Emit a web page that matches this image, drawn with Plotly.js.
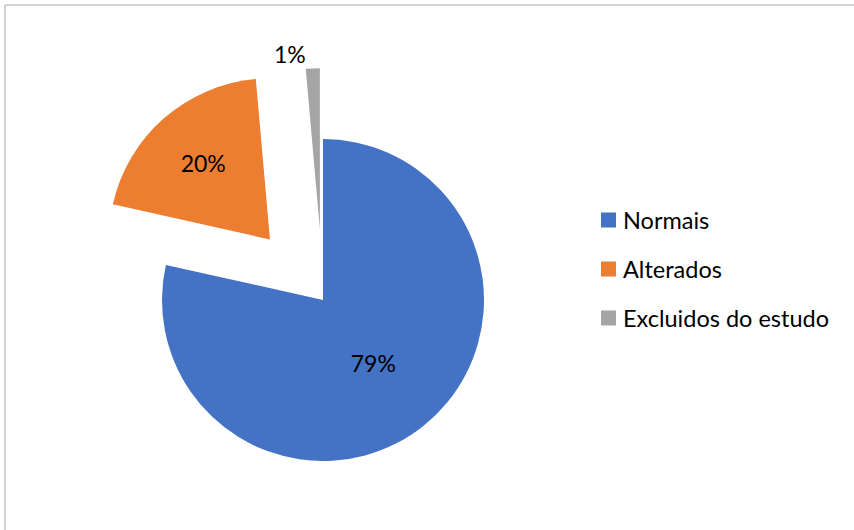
<!DOCTYPE html>
<html><head><meta charset="utf-8">
<script src="https://cdn.plot.ly/plotly-3.0.1.min.js"></script>
<style>html,body{margin:0;padding:0;overflow:hidden;background:#fff}#chart{width:854px;height:600px}</style>
</head><body><div id="chart"></div>
<script>
const categories = ["Normais", "Alterados", "Excluidos do estudo"];
const values = [78.5, 20.1, 1.4];
const pctLabels = ["79%", "20%", "1%"];
const colors = ["#4472C4", "#ED7D31", "#A5A5A5"];
const pulls = [0, 0.5, 0.44];

const W = 854, H = 600;
const FONT = "Lato, 'Open Sans', sans-serif";
const px = x => x / W;
const py = y => 1 - y / H;

const shapes = [
  {type:'line', xref:'paper', yref:'paper', x0:px(5), x1:px(5), y0:py(5), y1:py(600), line:{color:'#a6a6a6', width:1}},
  {type:'line', xref:'paper', yref:'paper', x0:px(5), x1:px(854), y0:py(5), y1:py(5), line:{color:'#a6a6a6', width:1}}
];
const annotations = [];
categories.forEach((c, i) => {
  const cy = 220 + i * 49;
  shapes.push({type:'rect', xref:'paper', yref:'paper', x0:px(601), x1:px(616), y0:py(cy-7.5), y1:py(cy+7.5), fillcolor:colors[i], line:{width:0}});
  annotations.push({xref:'paper', yref:'paper', x:px(621), y:py(cy), xanchor:'left', yanchor:'middle', showarrow:false, text:c, font:{family:FONT, size:23.5, color:'#000'}});
});

const trace = {
  type:'pie', labels:categories, values:values, text:pctLabels, textinfo:'text',
  sort:false, direction:'clockwise', rotation:0, pull:pulls,
  marker:{colors:colors, line:{width:0}},
  textposition:['inside','inside','outside'], insidetextorientation:'horizontal',
  textfont:{family:FONT, size:23, color:'#000'},
  domain:{x:[(323-241.5)/W, (323+241.5)/W], y:[1-(300+241.5)/H, 1-(300-241.5)/H]},
  showlegend:false, hoverinfo:'label+percent'
};
Plotly.newPlot('chart', [trace], {
  width:W, height:H, margin:{l:0,r:0,t:0,b:0}, paper_bgcolor:'#fff',
  showlegend:false, shapes:shapes, annotations:annotations
}, {staticPlot:true});
</script></body></html>
